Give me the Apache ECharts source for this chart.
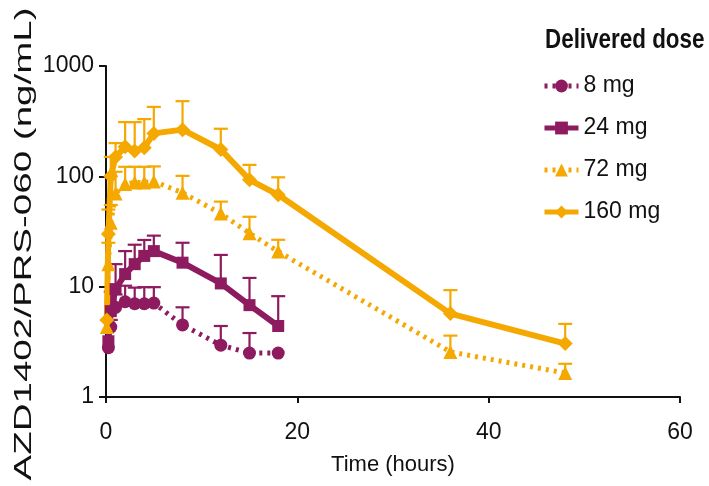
<!DOCTYPE html>
<html><head><meta charset="utf-8">
<script src="https://cdn.jsdelivr.net/npm/echarts@6/dist/echarts.min.js"></script>
<style>html,body{margin:0;padding:0;background:#fff}#c{width:709px;height:486px}</style>
</head><body><div id="c"></div>
<script>
var seriesNames = ['8 mg', '24 mg', '72 mg', '160 mg'];
var xTicks = [0, 20, 40, 60];
var yTicks = [1, 10, 100, 1000];

var times8 = [0.25, 0.5, 1, 2, 3, 4, 5, 8, 12, 15, 18];
var mean8 = [2.8, 4.3, 6.5, 7.3, 7.0, 7.0, 7.1, 4.5, 2.95, 2.5, 2.5];
var upper8 = [null, 5.0, 8.5, 10.2, 9.8, 9.9, 9.9, 6.5, 4.4, 3.8, null];

var times24 = [0.25, 0.5, 1, 2, 3, 4, 5, 8, 12, 15, 18];
var mean24 = [3.2, 6.0, 9.5, 13, 16, 19, 21, 16.5, 10.7, 6.8, 4.4];
var upper24 = [null, 9, 16, 21, 24, 26.5, 29, 25, 19.4, 12, 8.2];

var times72 = [0.083, 0.25, 0.5, 1, 2, 3, 4, 5, 8, 12, 15, 18, 36, 48];
var mean72 = [4.3, 16, 38, 70, 85, 88, 88, 90, 71, 46, 30.5, 20.8, 2.56, 1.65];
var upper72 = [null, 25, 55, 110, 122, 122, 122, 123, 101, 59, 43, 26.6, 3.6, 2.0];

var times160 = [0.083, 0.25, 0.5, 1, 2, 3, 4, 5, 8, 12, 15, 18, 36, 48];
var mean160 = [5, 30, 100, 150, 185, 170, 182, 245, 265, 175, 93, 68, 5.7, 3.05];
var upper160 = [null, 50, 150, 200, 310, 310, 330, 426, 480, 270, 127, 98, 9.3, 4.6];

var PURPLE = '#8e1b5f';
var ORANGE = '#f4a800';
var FONT = "'Liberation Sans', Arial, sans-serif";

function pts(t, m) { return t.map(function (v, i) { return [v, m[i]]; }); }
function errPts(t, m, u) {
  var out = [];
  t.forEach(function (v, i) { if (u[i] != null) out.push([v, m[i], u[i]]); });
  return out;
}
function errSeries(t, m, u, color) {
  return {
    type: 'custom', silent: true, z: 1,
    data: errPts(t, m, u),
    encode: { x: 0, y: [1, 2] },
    renderItem: function (params, api) {
      var p0 = api.coord([api.value(0), api.value(1)]);
      var p1 = api.coord([api.value(0), api.value(2)]);
      var hw = 7;
      return {
        type: 'group',
        children: [
          { type: 'line', shape: { x1: p0[0], y1: p0[1], x2: p1[0], y2: p1[1] }, style: { stroke: color, lineWidth: 2.2 } },
          { type: 'line', shape: { x1: p1[0] - hw, y1: p1[1], x2: p1[0] + hw, y2: p1[1] }, style: { stroke: color, lineWidth: 2.2 } }
        ]
      };
    }
  };
}
function lineSeries(name, t, m, color, symbol, size, dotted) {
  return {
    name: name, type: 'line', z: 3,
    data: pts(t, m),
    symbol: symbol, symbolSize: size, showSymbol: true,
    itemStyle: { color: color },
    lineStyle: { color: color, width: dotted ? 5 : 6, type: dotted ? [3, 5] : 'solid' }
  };
}

var chart = echarts.init(document.getElementById('c'), null, { renderer: 'canvas' });
chart.setOption({
  animation: false,
  backgroundColor: '#ffffff',
  textStyle: { fontFamily: FONT },
  grid: { left: 106, right: 29, top: 66, bottom: 89, containLabel: false },
  legend: {
    data: seriesNames, orient: 'vertical', left: 537, top: 66,
    itemWidth: 34, itemHeight: 16, itemGap: 12,
    lineStyle: { width: 5 },
    textStyle: { fontFamily: FONT, fontSize: 23, color: '#111', lineHeight: 30 }
  },
  xAxis: {
    type: 'value', min: 0, max: 60, interval: 20,
    name: 'Time (hours)', nameLocation: 'middle', nameGap: 57,
    nameTextStyle: { fontFamily: FONT, fontSize: 22, color: '#111' },
    axisLine: { onZero: false, lineStyle: { color: '#111', width: 2 } },
    axisTick: { show: true, length: 6, lineStyle: { color: '#111', width: 2 } },
    axisLabel: { fontFamily: FONT, fontSize: 23, color: '#111', margin: 24,
      formatter: function (v) { return xTicks.indexOf(v) >= 0 ? String(v) : ''; } },
    splitLine: { show: false }
  },
  yAxis: {
    type: 'log', logBase: 10, min: yTicks[0], max: yTicks[yTicks.length - 1],
    axisLine: { show: true, lineStyle: { color: '#111', width: 2 } },
    axisTick: { show: true, length: 7, lineStyle: { color: '#111', width: 2 } },
    minorTick: { show: false },
    axisLabel: { fontFamily: FONT, fontSize: 23, color: '#111', margin: 12,
      formatter: function (v) { return String(Math.round(v)); } },
    splitLine: { show: false }
  },
  graphic: [{
    type: 'text', x: 25, y: 244, rotation: Math.PI / 2, scaleX: 1, scaleY: 0.6,
    style: {
      text: 'AZD1402/PRS-060 (ng/mL)', fill: '#111',
      font: "38.5px 'Liberation Sans', Arial, sans-serif",
      textAlign: 'center', textVerticalAlign: 'middle'
    }
  }, {
    type: 'text', x: 545, y: 27, scaleX: 0.83, scaleY: 1,
    style: {
      text: 'Delivered dose', fill: '#111',
      font: "bold 27px 'Liberation Sans', Arial, sans-serif",
      textAlign: 'left', textVerticalAlign: 'top'
    }
  }],
  series: [
    errSeries(times8, mean8, upper8, PURPLE),
    errSeries(times24, mean24, upper24, PURPLE),
    errSeries(times72, mean72, upper72, ORANGE),
    errSeries(times160, mean160, upper160, ORANGE),
    lineSeries('8 mg', times8, mean8, PURPLE, 'circle', 13, true),
    lineSeries('24 mg', times24, mean24, PURPLE, 'rect', 12, false),
    lineSeries('72 mg', times72, mean72, ORANGE, 'triangle', 14, true),
    lineSeries('160 mg', times160, mean160, ORANGE, 'diamond', 15, false)
  ]
});
</script></body></html>
